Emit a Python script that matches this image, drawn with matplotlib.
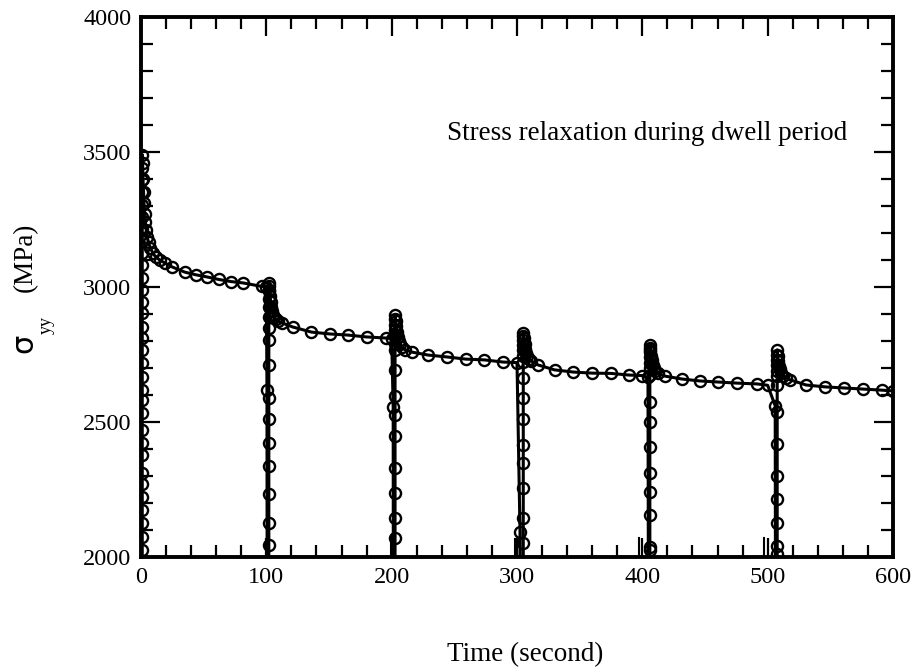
import numpy as np
import matplotlib
matplotlib.use("Agg")
import matplotlib.pyplot as plt

plt.rcParams['font.family'] = ['Liberation Serif', 'DejaVu Serif']

# ---- data (time in s, stress in MPa) ----
# cycle 1: first loading at t ~ 1 s, then dwell relaxation
c1_rise_t = [1.0] * 33
c1_rise_s = [1000, 2026, 2074, 2126, 2174, 2222, 2270, 2311, 2378, 2422, 2470,
             2533, 2581, 2619, 2667, 2719, 2767, 2811, 2852, 2904, 2944, 2989,
             3035, 3080, 3125, 3170, 3215, 3260, 3305, 3350, 3395, 3440, 3490]
c1_relax_t = [1.3, 1.6, 2.0, 2.4, 2.9, 3.5, 4.2, 5.0, 6.0, 7.5, 9.5, 12, 15, 19,
              25, 35, 44, 53, 62, 72, 81.6, 96.5, 100]
c1_relax_s = [3460, 3400, 3350, 3310, 3270, 3240, 3210, 3185, 3165, 3145, 3125,
              3110, 3100, 3089, 3074, 3055, 3045, 3037, 3028, 3020, 3015, 3002, 3000]

# cycle 2
c2_unload_t = [100.5, 100.8]
c2_unload_s = [2619, 1000]
c2_rise_t = [102.0] * 17
c2_rise_s = [1000, 2044, 2126, 2233, 2337, 2422, 2511, 2589, 2711, 2804, 2850,
             2890, 2925, 2955, 2985, 3005, 3015]
c2_relax_t = [102.5, 103, 103.5, 104, 104.6, 105.3, 106.2, 107.5, 109.5, 112.5,
              121, 136, 151, 165, 180, 195.5, 200]
c2_relax_s = [2990, 2965, 2945, 2925, 2910, 2898, 2888, 2880, 2873, 2867, 2852,
              2833, 2826, 2822, 2815, 2811, 2809]

# cycle 3
c3_unload_t = [201.2, 201.5]
c3_unload_s = [2556, 1000]
c3_rise_t = [202.7] * 16
c3_rise_s = [1000, 2070, 2144, 2237, 2330, 2448, 2526, 2596, 2693, 2767, 2790,
             2815, 2840, 2860, 2880, 2896]
c3_relax_t = [203.2, 203.7, 204.2, 204.8, 205.5, 206.5, 208, 210.5, 216, 229,
              244, 259, 274, 289, 300]
c3_relax_s = [2875, 2855, 2835, 2815, 2800, 2788, 2778, 2768, 2759, 2748, 2741,
              2733, 2730, 2722, 2720]

# cycle 4
c4_unload_t = [302.4, 302.6]
c4_unload_s = [2093, 1000]
c4_rise_t = [305.0] * 16
c4_rise_s = [1000, 2052, 2144, 2256, 2348, 2415, 2511, 2589, 2663, 2722, 2745,
             2765, 2785, 2805, 2820, 2830]
c4_relax_t = [305.5, 306, 306.6, 307.3, 308.2, 309.5, 311.5, 317, 330, 345, 360,
              375, 389, 400]
c4_relax_s = [2810, 2790, 2772, 2757, 2745, 2735, 2725, 2711, 2693, 2685, 2681,
              2680, 2674, 2672]

# cycle 5
c5_unload_t = [404.5, 404.8]
c5_unload_s = [2665, 1950]
c5_rise_t = [406.0] * 16
c5_rise_s = [1000, 2026, 2037, 2156, 2241, 2311, 2407, 2500, 2574, 2674, 2700,
             2720, 2740, 2760, 2775, 2785]
c5_relax_t = [406.5, 407, 407.6, 408.3, 409.2, 410.5, 412.5, 418, 432, 446,
              460.5, 475.6, 491.6, 500]
c5_relax_s = [2765, 2745, 2728, 2712, 2700, 2690, 2680, 2670, 2659, 2652, 2648,
              2644, 2641, 2636]

# cycle 6
c6_unload_t = [506.0, 506.5]
c6_unload_s = [2560, 1000]
c6_rise_t = [507.6] * 15
c6_rise_s = [1000, 2011, 2041, 2126, 2215, 2300, 2419, 2537, 2637, 2670, 2690,
             2710, 2730, 2750, 2767]
c6_relax_t = [508.1, 508.6, 509.2, 510, 511, 512.5, 515, 518, 530.7, 546, 561,
              576, 591, 600]
c6_relax_s = [2745, 2725, 2708, 2695, 2683, 2672, 2663, 2656, 2637, 2630, 2626,
              2622, 2618, 2615]

# short vertical stubs just above the time axis
stub_t = [199.5, 298.5, 397.5, 497.0]
stub_top = [2074, 2067, 2070, 2070]

t = np.concatenate([c1_rise_t, c1_relax_t,
                    c2_unload_t, c2_rise_t, c2_relax_t,
                    c3_unload_t, c3_rise_t, c3_relax_t,
                    c4_unload_t, c4_rise_t, c4_relax_t,
                    c5_unload_t, c5_rise_t, c5_relax_t,
                    c6_unload_t, c6_rise_t, c6_relax_t])
s = np.concatenate([c1_rise_s, c1_relax_s,
                    c2_unload_s, c2_rise_s, c2_relax_s,
                    c3_unload_s, c3_rise_s, c3_relax_s,
                    c4_unload_s, c4_rise_s, c4_relax_s,
                    c5_unload_s, c5_rise_s, c5_relax_s,
                    c6_unload_s, c6_rise_s, c6_relax_s])

fig = plt.figure(figsize=(9.11, 6.68), dpi=100)
ax = fig.add_axes([141/911, 1-557/668, (893-141)/911, (557-17)/668])

ax.plot(t, s, color='black', lw=2.2, marker='o', ms=8, mfc='none', mew=1.7)
for x0, y1 in zip(stub_t, stub_top):
    ax.plot([x0, x0], [1000, y1], color='black', lw=1.5)

ax.set_xlim(0, 600)
ax.set_ylim(2000, 4000)
ax.set_xticks(np.arange(0, 601, 100))
ax.set_yticks(np.arange(2000, 4001, 500))
ax.set_xticks(np.arange(0, 601, 20), minor=True)
ax.set_yticks(np.arange(2000, 4001, 100), minor=True)
ax.tick_params(which='both', direction='in', top=True, right=True,
               labelsize=17.5, pad=7)
ax.tick_params(which='major', length=13.5, width=1.6)
ax.tick_params(which='minor', length=8.5, width=1.6)
for sp in ax.spines.values():
    sp.set_linewidth(2.8)

ax.text(244, 3544, 'Stress relaxation during dwell period', fontsize=19.5,
        va='baseline', ha='left')

fig.text(525/911, 1-655/668, 'Time (second)', fontsize=19.5,
         ha='center', va='center')
fig.text(24/911, 1-343/668, '\u03c3', fontsize=22, family='DejaVu Sans',
         rotation=90, ha='center', va='center')
fig.text(46/911, 1-325/668, 'yy', fontsize=13, rotation=90,
         ha='center', va='center')
fig.text(25/911, 1-257/668, '(MPa)', fontsize=19.5, rotation=90,
         ha='center', va='center')

plt.savefig('out.png', dpi=100)
